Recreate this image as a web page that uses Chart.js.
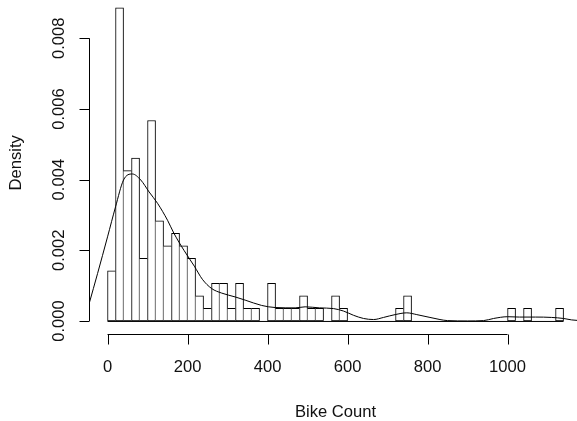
<!DOCTYPE html>
<html>
<head>
<meta charset="utf-8">
<script src="https://cdn.jsdelivr.net/npm/chart.js@4.4.1/dist/chart.umd.min.js"></script>
<style>
  html, body { margin: 0; padding: 0; background: #fff; }
  #wrap { width: 577px; height: 421px; overflow: hidden; }
</style>
</head>
<body>
<div id="wrap"><canvas id="myChart" width="577" height="421"></canvas></div>
<script>
// histogram bins (centres of the 20-wide bins) and their densities
const binCenters = [10, 30, 50, 70, 90, 110, 130, 150, 170, 190,
  210, 230, 250, 270, 290, 310, 330, 350, 370, 390,
  410, 430, 450, 470, 490, 510, 530, 550, 570, 590,
  610, 630, 650, 670, 690, 710, 730, 750, 770, 790,
  810, 830, 850, 870, 890, 910, 930, 950, 970, 990,
  1010, 1030, 1050, 1070, 1090, 1110, 1130];
const binDensity = [0.001418, 0.008865, 0.004255, 0.004610, 0.001773, 0.005674, 0.002837, 0.002128, 0.002482, 0.002128,
  0.001773, 0.000709, 0.000355, 0.001064, 0.001064, 0.000355, 0.001064, 0.000355, 0.000355, 0,
  0.001064, 0.000355, 0.000355, 0.000355, 0.000709, 0.000355, 0.000355, 0, 0.000709, 0.000355,
  0, 0, 0, 0, 0, 0, 0.000355, 0.000709, 0, 0,
  0, 0, 0, 0, 0, 0, 0, 0, 0, 0,
  0.000355, 0, 0.000355, 0, 0, 0, 0.000355];

// kernel density curve
const curveX = [-46, -25, 0, 20, 40, 62, 83, 104, 125, 150, 166, 191, 217, 237, 260, 285, 319, 344, 385, 419,
  469, 494, 530, 565, 590, 615, 640, 665, 690, 719, 748, 773, 806, 831, 850, 900, 940, 965, 1000, 1030,
  1070, 1110, 1140, 1160, 1180];
const curveY = [0.00049, 0.00134, 0.00238, 0.00323, 0.00399, 0.00416, 0.00399, 0.00365, 0.00333, 0.00285,
  0.00248, 0.00200, 0.00155, 0.00118, 0.00092, 0.00079, 0.00068, 0.00059, 0.00044, 0.00038,
  0.00037, 0.00040, 0.00037, 0.00035, 0.00028, 0.00016, 0.00007, 0.00004, 0.00010, 0.00018,
  0.00023, 0.00018, 0.00010, 0.00004, 0.00001, 0.0, 0.00001, 0.00007, 0.00012, 0.00011,
  0.00011, 0.00010, 0.00007, 0.00003, 0.00001];

const xTicks = [0, 200, 400, 600, 800, 1000];
const yTicks = [0, 0.002, 0.004, 0.006, 0.008];
const yTickLabels = ["0.000", "0.002", "0.004", "0.006", "0.008"];
const xTitle = "Bike Count";
const yTitle = "Density";

const FONT = '16.6px "Liberation Sans", Arial, sans-serif';

const rAxes = {
  id: "rAxes",
  afterDraw(chart) {
    const ctx = chart.ctx;
    const xs = chart.scales.x;
    const ys = chart.scales.y;
    const area = chart.chartArea;
    ctx.save();
    ctx.strokeStyle = "#000";
    ctx.fillStyle = "#111";
    ctx.lineWidth = 1;

    // baseline under the bars
    const y0 = ys.getPixelForValue(0);
    ctx.beginPath();
    ctx.moveTo(xs.getPixelForValue(binCenters[0] - 10), y0 + 0.5);
    ctx.lineTo(xs.getPixelForValue(binCenters[binCenters.length - 1] + 10), y0 + 0.5);
    ctx.stroke();

    // x axis
    const ax = Math.round(area.bottom) + 0.5;
    ctx.beginPath();
    ctx.moveTo(xs.getPixelForValue(xTicks[0]), ax);
    ctx.lineTo(xs.getPixelForValue(xTicks[xTicks.length - 1]), ax);
    xTicks.forEach((t) => {
      const px = Math.round(xs.getPixelForValue(t)) + 0.5;
      ctx.moveTo(px, ax);
      ctx.lineTo(px, ax + 10);
    });
    ctx.stroke();
    ctx.font = FONT;
    ctx.textAlign = "center";
    ctx.textBaseline = "alphabetic";
    xTicks.forEach((t) => {
      ctx.fillText(String(t), xs.getPixelForValue(t), 372);
    });
    ctx.fillText(xTitle, xs.getPixelForValue(570), 417);

    // y axis
    const ay = Math.round(area.left) + 0.5;
    ctx.beginPath();
    ctx.moveTo(ay, ys.getPixelForValue(yTicks[0]));
    ctx.lineTo(ay, ys.getPixelForValue(yTicks[yTicks.length - 1]));
    yTicks.forEach((t) => {
      const py = Math.round(ys.getPixelForValue(t)) + 0.5;
      ctx.moveTo(ay, py);
      ctx.lineTo(ay - 10, py);
    });
    ctx.stroke();
    yTicks.forEach((t, i) => {
      ctx.save();
      ctx.translate(64, ys.getPixelForValue(t));
      ctx.rotate(-Math.PI / 2);
      ctx.fillText(yTickLabels[i], 0, 0);
      ctx.restore();
    });
    ctx.save();
    ctx.translate(21, (area.top + area.bottom) / 2 - 4);
    ctx.rotate(-Math.PI / 2);
    ctx.fillText(yTitle, 0, 0);
    ctx.restore();
    ctx.restore();
  },
};

const ctx = document.getElementById("myChart").getContext("2d");
new Chart(ctx, {
  type: "bar",
  data: {
    datasets: [
      {
        type: "line",
        data: curveX.map((x, i) => ({ x: x, y: curveY[i] })),
        borderColor: "#000",
        borderWidth: 1,
        pointRadius: 0,
        fill: false,
        cubicInterpolationMode: "monotone",
        order: 0,
      },
      {
        type: "bar",
        data: binCenters.map((x, i) => ({ x: x, y: binDensity[i] })),
        backgroundColor: "#fff",
        borderColor: "#000",
        borderSkipped: false,
        borderWidth: (c) => {
          const i = c.dataIndex;
          const v = binDensity[i];
          const prev = i > 0 ? binDensity[i - 1] : -1;
          const next = i < binDensity.length - 1 ? binDensity[i + 1] : -1;
          return { top: 1, bottom: 1, left: prev < v ? 1 : 0, right: next <= v ? 1 : 0 };
        },
        barPercentage: 1,
        categoryPercentage: 1,
        order: 1,
      },
    ],
  },
  options: {
    responsive: false,
    animation: false,
    devicePixelRatio: 1,
    layout: { padding: { left: 89.3, right: 0, top: 0, bottom: 87.5 } },
    plugins: { legend: { display: false }, tooltip: { enabled: false } },
    scales: {
      x: {
        type: "linear",
        display: false,
        offset: false,
        min: -45.6,
        max: 1173.6,
      },
      y: {
        display: false,
        min: -0.000355,
        max: 0.009084,
      },
    },
  },
  plugins: [rAxes],
});
</script>
</body>
</html>
